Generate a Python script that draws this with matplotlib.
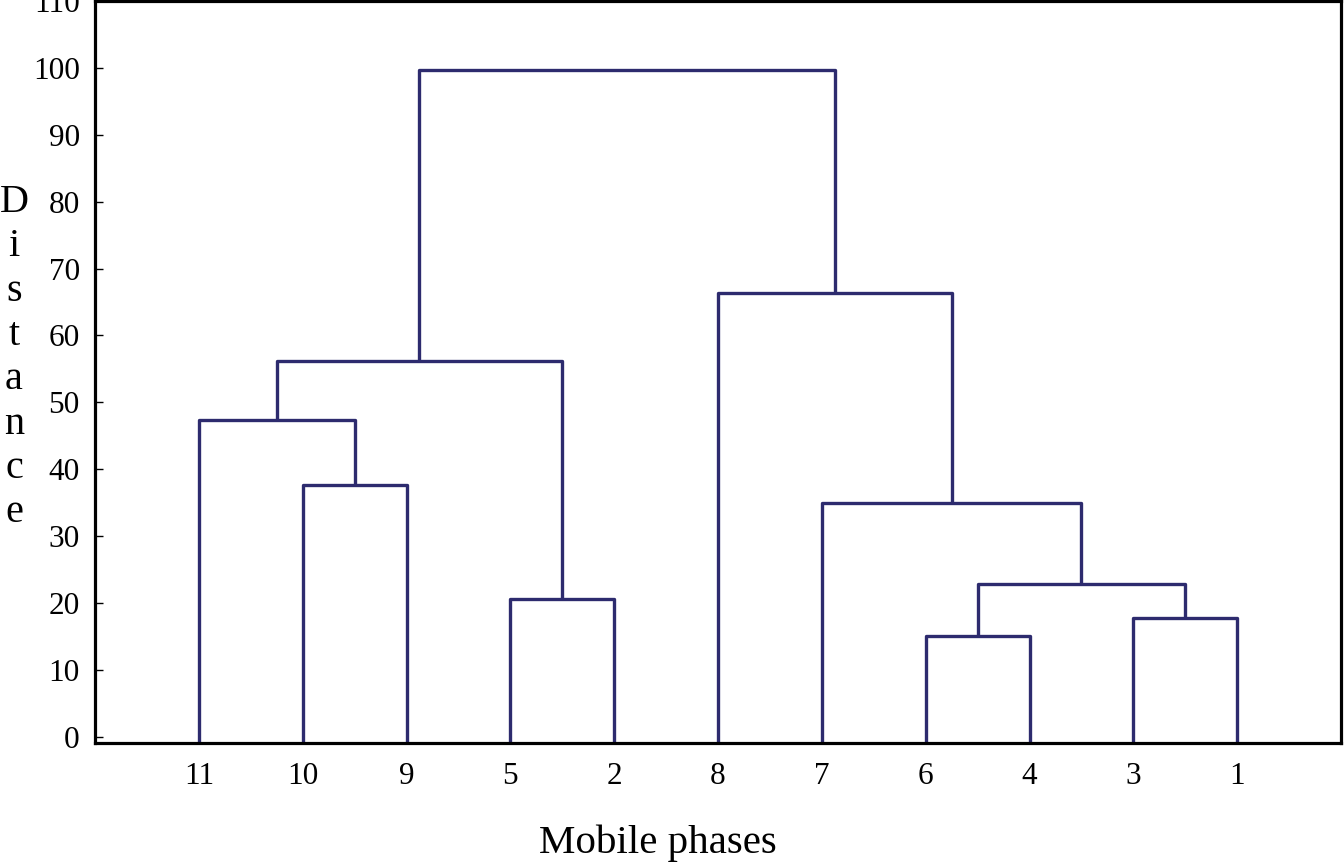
import matplotlib
matplotlib.use("Agg")
import matplotlib.pyplot as plt

# Leaf labels in dendrogram order (left to right)
leaf_labels = ['11', '10', '9', '5', '2', '8', '7', '6', '4', '3', '1']
# Merges: (left node, right node, distance); leaves are 0..10, merged nodes 11..
merge_left = [1, 0, 3, 12, 7, 9, 15, 6, 5, 14]
merge_right = [2, 11, 4, 13, 8, 10, 16, 17, 18, 19]
merge_height = [37.6, 47.4, 20.6, 56.1, 15.1, 17.8, 22.9, 35.0, 66.4, 99.7]
y_ticks = [0, 10, 20, 30, 40, 50, 60, 70, 80, 90, 100, 110]

plt.rcParams['font.family'] = ['Liberation Serif', 'DejaVu Serif']

W, H = 1344, 864
fig = plt.figure(figsize=(W / 100, H / 100), dpi=100)
ax = fig.add_axes([95 / W, 1 - 742.7 / H, (1341 - 95) / W, (742.7 - 1) / H])

ymin, ymax = -0.9, 110
line_color = '#2d2b6e'

n = len(leaf_labels)
node_x = {i: i + 1 for i in range(n)}
node_y = {i: ymin for i in range(n)}
for k, (a, b, h) in enumerate(zip(merge_left, merge_right, merge_height)):
    idx = n + k
    xa, ya = node_x[a], node_y[a]
    xb, yb = node_x[b], node_y[b]
    ax.plot([xa, xa, xb, xb], [ya, h, h, yb], color=line_color, lw=2.4,
            solid_joinstyle='round', solid_capstyle='butt')
    node_x[idx] = (xa + xb) / 2
    node_y[idx] = h

ax.set_xlim(0, 12)
ax.set_ylim(ymin, ymax)
ax.set_xticks(range(1, n + 1))
ax.set_xticklabels(leaf_labels, fontsize=22.5)
ax.set_yticks(y_ticks)
ax.set_yticklabels([str(t) for t in y_ticks], fontsize=22.5, va='center_baseline')
ax.tick_params(axis='x', length=0, pad=14)
ax.tick_params(axis='y', direction='in', length=6, width=1, pad=11)
for s in ax.spines.values():
    s.set_linewidth(2.3)
    s.set_color('black')

# Vertical stacked y-label
word = "Distance"
for i, ch in enumerate(word):
    yb = 212 + i * 44.3
    fig.text(14 / W, 1 - yb / H, ch, fontsize=29, ha='center', va='baseline')

fig.text(658 / W, 1 - 853 / H, "Mobile phases", fontsize=29.5, ha='center', va='baseline')

fig.savefig("out.png", dpi=100)
